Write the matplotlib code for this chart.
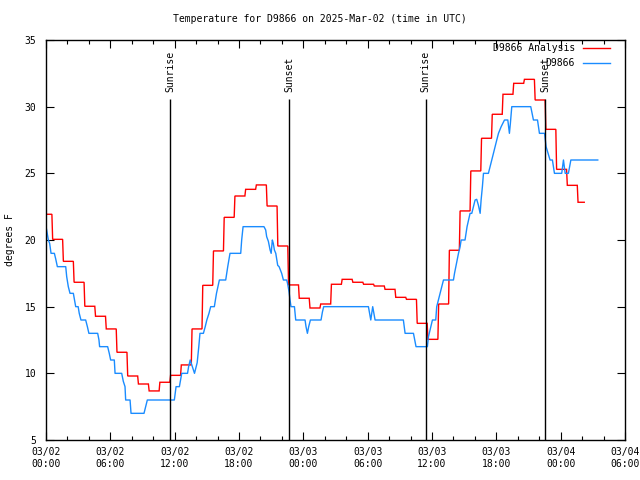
import datetime as dt
import matplotlib
matplotlib.use("Agg")
import matplotlib.pyplot as plt
from matplotlib.ticker import MultipleLocator
from matplotlib.lines import Line2D

plt.rcParams['font.family'] = ['DejaVu Sans Mono']
plt.rcParams['font.size'] = 7

# ---------------- data ----------------
title = "Temperature for D9866 on 2025-Mar-02 (time in UTC)"
start = dt.datetime(2025, 3, 2, 0, 0)

# hourly analysis values (deg F), hour offsets from start
red_vals = [21.93, 20.05, 18.4, 16.83, 15.03, 14.28, 13.33, 11.58, 9.8, 9.2,
            8.68, 9.33, 9.85, 10.63, 13.33, 16.6, 19.18, 21.7, 23.3, 23.8,
            24.13, 22.55, 19.55, 16.63, 15.63, 14.9, 15.2, 16.68, 17.05, 16.83,
            16.68, 16.55, 16.3, 15.7, 15.55, 13.75, 12.55, 15.2, 19.23, 22.18,
            25.18, 27.63, 29.43, 30.93, 31.75, 32.05, 30.5, 28.3, 25.3, 24.1,
            22.83]
red_hours = list(range(len(red_vals)))
red_end = 50.2

# observations (hours from start, deg F)
blue_hours = [0.05, 0.22, 0.34, 0.47, 0.78, 0.9, 1.06, 1.84, 1.93, 2.08,
              2.24, 2.55, 2.64, 2.77, 3.0, 3.1, 3.26, 3.7, 3.86, 4.0,
              4.82, 4.94, 5.0, 5.75, 5.9, 6.03, 6.37, 6.44, 7.06, 7.21,
              7.37, 7.43, 7.84, 7.93, 9.14, 9.3, 9.45, 11.97, 12.13, 12.44,
              12.55, 12.66, 13.2, 13.3, 13.45, 13.85, 14.1, 14.25, 14.36, 14.68,
              14.85, 15.0, 15.2, 15.36, 15.7, 15.9, 16.17, 16.76, 16.95, 17.16,
              18.16, 18.25, 18.38, 20.33, 20.49, 20.58, 20.74, 20.9, 21.0, 21.11,
              21.2, 21.3, 21.43, 21.52, 21.61, 21.74, 21.98, 22.14, 22.45, 22.54,
              22.67, 22.76, 22.85, 23.17, 23.29, 24.16, 24.25, 24.38, 24.5, 24.66,
              25.65, 25.78, 25.9, 30.07, 30.29, 30.47, 30.69, 33.33, 33.49, 34.27,
              34.51, 35.57, 35.67, 35.82, 36.04, 36.35, 36.44, 36.6, 36.75, 36.91,
              37.07, 38.0, 38.1, 38.22, 38.34, 38.47, 38.62, 38.72, 39.08, 39.27,
              39.55, 39.71, 39.86, 40.02, 40.17, 40.33, 40.49, 40.58, 40.7, 40.8,
              41.26, 41.42, 41.57, 41.73, 41.88, 42.04, 42.2, 42.45, 42.76, 43.07,
              43.22, 43.31, 43.44, 45.21, 45.46, 45.84, 46.02, 46.5, 46.64, 47.01,
              47.23, 47.42, 48.1, 48.26, 48.42, 48.72, 48.95, 51.46]
blue_temps = [20.8, 20.0, 19.75, 19.0, 19.0, 18.6, 18.0, 18.0, 17.25, 16.5,
              16.0, 16.0, 15.6, 15.0, 15.0, 14.5, 14.0, 14.0, 13.5, 13.0,
              13.0, 12.5, 12.0, 12.0, 11.5, 11.0, 11.0, 10.0, 10.0, 9.4,
              9.0, 8.0, 8.0, 7.0, 7.0, 7.5, 8.0, 8.0, 9.0, 9.0,
              9.5, 10.0, 10.0, 10.5, 11.0, 10.0, 10.8, 12.0, 13.0, 13.0,
              13.5, 14.0, 14.5, 15.0, 15.0, 16.0, 17.0, 17.0, 18.0, 19.0,
              19.0, 20.0, 21.0, 21.0, 20.75, 20.25, 19.9, 19.25, 19.0, 20.0,
              19.75, 19.25, 19.0, 18.55, 18.1, 18.0, 17.5, 17.0, 17.0, 16.7,
              16.1, 15.5, 15.0, 15.0, 14.0, 14.0, 13.5, 13.0, 13.5, 14.0,
              14.0, 14.6, 15.0, 15.0, 14.0, 15.0, 14.0, 14.0, 13.0, 13.0,
              12.0, 12.0, 12.75, 13.25, 14.0, 14.0, 15.0, 15.5, 16.0, 16.5,
              17.0, 17.0, 17.5, 18.0, 18.5, 19.0, 19.5, 20.0, 20.0, 21.0,
              22.0, 22.0, 22.5, 23.0, 23.05, 22.6, 22.0, 23.0, 24.0, 25.0,
              25.0, 25.5, 26.0, 26.5, 27.0, 27.5, 28.0, 28.5, 29.0, 29.0,
              28.0, 28.75, 30.0, 30.0, 29.0, 29.0, 28.0, 28.0, 27.0, 26.0,
              26.0, 25.0, 25.0, 26.0, 25.0, 25.0, 26.0, 26.0]

sun_labels = ["Sunrise", "Sunset", "Sunrise", "Sunset"]
sun_hours = [11.6, 22.7, 35.4, 46.58]

series_names = ["D9866 Analysis", "D9866"]
series_colors = ["#ff0000", "#1a8cff"]
y_label = "degrees F"

# ---------------- figure ----------------
fig = plt.figure(figsize=(6.4, 4.8), dpi=100)
ax = fig.add_axes([46 / 640, 40 / 480, 579 / 640, 400 / 480])

# build analysis step curve from hourly values
rx, ry = [], []
n = len(red_vals)
for i, (h, v) in enumerate(zip(red_hours, red_vals)):
    t0 = 0.0 if i == 0 else h - 0.38
    t1 = red_end if i == n - 1 else h + 0.55
    rx += [t0, t1]
    ry += [v, v]
ax.plot(rx, ry, color=series_colors[0], lw=1.0, solid_joinstyle='miter')
ax.plot(blue_hours, blue_temps, color=series_colors[1], lw=1.0)

for h, lab in zip(sun_hours, sun_labels):
    ax.vlines(h, 5, 30.6, color='black', lw=1.0)
    ax.text(h, 31.1, lab, rotation=90, ha='center', va='bottom', fontsize=7)

ax.set_xlim(0, 54)
ax.set_ylim(5, 35)
major = list(range(0, 55, 6))
ax.set_xticks(major)
ax.set_xticklabels([(start + dt.timedelta(hours=h)).strftime("%m/%d\n%H:%M") for h in major])
ax.xaxis.set_minor_locator(MultipleLocator(2))
ax.set_yticks(range(5, 36, 5))
ax.tick_params(which='both', direction='in', top=True, right=True, width=0.8)
ax.tick_params(which='major', length=6, pad=5)
ax.tick_params(which='minor', length=3)
ax.tick_params(axis='y', pad=7)
for s in ax.spines.values():
    s.set_linewidth(1.0)

# legend (gnuplot style, text right-aligned, sample line to the right)
leg_y = [0.98, 0.9425]
for name, col, yy in zip(series_names, series_colors, leg_y):
    ax.text(0.9136, yy, name, transform=ax.transAxes, ha='right', va='center', fontsize=7)
    ax.add_line(Line2D([0.9275, 0.974], [yy, yy], transform=ax.transAxes, color=col, lw=1.0))

fig.text(10 / 640, 0.5, y_label, rotation=90, ha='center', va='center', fontsize=7)
fig.text(0.5, 1 - 19 / 480, title, ha='center', va='center', fontsize=7)

fig.savefig("out.png", dpi=100)
